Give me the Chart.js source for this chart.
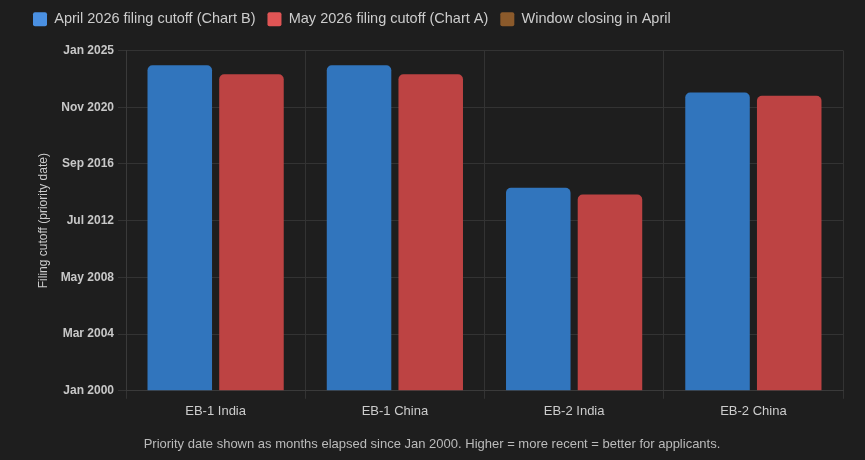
<!DOCTYPE html>
<html>
<head>
<meta charset="utf-8">
<script src="https://cdn.jsdelivr.net/npm/chart.js@4/dist/chart.umd.min.js"></script>
<style>
html,body{margin:0;padding:0;background:#1e1e1e;}
#wrap{width:865px;height:460px;}
</style>
</head>
<body>
<div id="wrap"><canvas id="c" width="865" height="460"></canvas></div>
<script>
const categories = ["EB-1 India", "EB-1 China", "EB-2 India", "EB-2 China"];
const aprilCutoff = [287, 287, 179, 263];
const mayCutoff = [279, 279, 173, 260];
const windowClosing = [null, null, null, null];
const tickValues = [0, 50, 100, 150, 200, 250, 300];
const tickLabels = ["Jan 2000", "Mar 2004", "May 2008", "Jul 2012", "Sep 2016", "Nov 2020", "Jan 2025"];
const seriesNames = ["April 2026 filing cutoff (Chart B)", "May 2026 filing cutoff (Chart A)", "Window closing in April"];

const sans = "'Liberation Sans', Arial, sans-serif";
const legendColors = ["#4a90e2", "#e05555", "#8b5a2b"];

const legendGap = {
  id: 'legendGap',
  beforeInit(chart) {
    const fit = chart.legend.fit;
    chart.legend.fit = function () { fit.call(this); this.height += 14; };
  }
};

new Chart(document.getElementById('c'), {
  type: 'bar',
  data: {
    labels: categories,
    datasets: [
      { label: seriesNames[0], data: aprilCutoff, backgroundColor: '#3175bd', borderRadius: {topLeft:5, topRight:5}, borderSkipped: 'bottom' },
      { label: seriesNames[1], data: mayCutoff, backgroundColor: '#bd4343', borderRadius: {topLeft:5, topRight:5}, borderSkipped: 'bottom' },
      { type: 'line', label: seriesNames[2], data: windowClosing, borderColor: '#8b5a2b', backgroundColor: '#8b5a2b' }
    ]
  },
  plugins: [legendGap],
  options: {
    responsive: false,
    animation: false,
    devicePixelRatio: 1,
    layout: { padding: { left: 21, right: 22, top: 0, bottom: 4 } },
    scales: {
      x: {
        grid: { color: '#333333', offset: true },
        border: { color: '#3a3a3a' },
        ticks: { color: '#cccccc', font: { family: sans, size: 13 }, padding: 5 }
      },
      y: {
        min: 0, max: 300,
        afterBuildTicks: (axis) => { axis.ticks = tickValues.map(v => ({ value: v })); },
        afterFit: (axis) => { axis.width = 105; },
        grid: { color: '#333333' },
        border: { color: '#3a3a3a' },
        ticks: {
          color: '#c8c8c8',
          font: { family: sans, size: 12, weight: 'bold' },
          padding: 4,
          callback: (v) => { const i = tickValues.indexOf(v); return i >= 0 ? tickLabels[i] : ''; }
        },
        title: {
          display: true, text: 'Filing cutoff (priority date)', color: '#cccccc',
          font: { family: sans, size: 12 },
          padding: { top: 15, bottom: 4 }
        }
      }
    },
    plugins: {
      legend: {
        position: 'top', align: 'start',
        labels: {
          color: '#cccccc',
          font: { family: sans, size: 14.5 },
          boxWidth: 14, boxHeight: 14, padding: 12,
          useBorderRadius: true, borderRadius: 2,
          generateLabels: (chart) => chart.data.datasets.map((d, i) => ({
            text: d.label, fillStyle: legendColors[i], strokeStyle: legendColors[i], lineWidth: 0,
            fontColor: '#cccccc', hidden: false, datasetIndex: i, borderRadius: 2
          }))
        }
      },
      title: {
        display: true, position: 'bottom',
        text: 'Priority date shown as months elapsed since Jan 2000. Higher = more recent = better for applicants.',
        color: '#bbbbbb', font: { family: sans, size: 13, weight: 'normal' },
        padding: { top: 12, bottom: 4 }
      },
      tooltip: { enabled: false }
    }
  }
});
</script>
</body>
</html>
